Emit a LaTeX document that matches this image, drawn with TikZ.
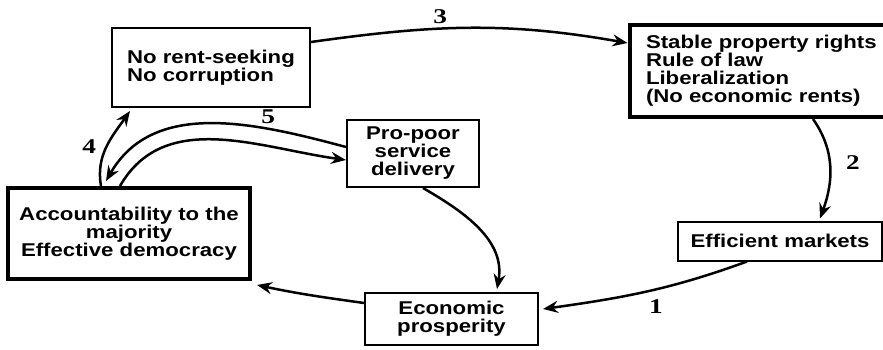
\documentclass[tikz,border=0pt]{standalone}
\usepackage{fontspec}
\setmainfont{Liberation Sans}[FakeStretch=1.2]
\newfontfamily\numfont{Liberation Serif}[FakeStretch=1.3]
\usetikzlibrary{arrows.meta, positioning}

\tikzset{
  box/.style={draw, line width=2pt, inner sep=0pt, align=center,
    font=\bfseries\fontsize{18.5}{18}\selectfont},
  thickbox/.style={box, line width=4pt},
  num/.style={font=\numfont\bfseries\fontsize{21}{21}\selectfont}
}

\begin{document}
\begin{tikzpicture}[x=1pt, y=1pt, ->, >={Stealth[length=15pt,width=12pt,inset=5pt]},
    line width=2.5pt]
      \clip (0,0) rectangle (883,349);

      \node[box, align=left, minimum width=198pt, minimum height=79pt] (rent) at (211,281.5)
        {No rent-seeking\\No corruption};
      \node[thickbox, align=left, minimum width=265pt, minimum height=92pt, text width=232pt] (rights) at (762,278)
        {Stable property rights\\Rule of law\\Liberalization\\(No economic rents)};
      \node[box, minimum width=132pt, minimum height=67pt] (service) at (413,195.5)
        {Pro-poor\\service\\delivery};
      \node[thickbox, minimum width=242pt, minimum height=91pt] (account) at (129,115.5)
        {Accountability to the\\majority\\Effective democracy};
      \node[box, minimum width=173pt, minimum height=52pt] (prosper) at (451.5,30)
        {Economic\\prosperity};
      \node[box, minimum width=204pt, minimum height=39pt] (markets) at (780,108)
        {Efficient markets};

      \path ([yshift=25.5pt]rent.east) edge [out=8, in=170] node[num, pos=.4, above=0pt] {3} ([yshift=28pt]rights.west)
            ([xshift=51pt]rights.south) edge [out=-55, in=70] node[num, pos=.45, right=12pt] {2} ([xshift=40pt,yshift=2pt]markets.north)
            ([xshift=-33pt]markets.south) edge [out=200, in=8] node[num, pos=.45, below=6pt] {1} ([xshift=4pt,yshift=10pt]prosper.east)
            ([yshift=16pt]prosper.west) edge [out=172, in=-12] ([xshift=5pt,yshift=-4pt]account.south east)
            ([xshift=10pt]service.south) edge [out=-30, in=80] ([xshift=45.5pt,yshift=3pt]prosper.north)
            ([xshift=-28pt]account.north) edge [out=100, in=-125] node[num, left=6pt] {4} ([xshift=19pt,yshift=-3pt]rent.south west)
            ([yshift=6.5pt]service.west) edge [out=165, in=60] node[num, pos=.28, above=1pt] {5} ([xshift=-23pt,yshift=5pt]account.north)
            ([xshift=-9pt]account.north) edge [out=60, in=172] ([yshift=-6.5pt]service.west)
            ;
\end{tikzpicture}
\end{document}
